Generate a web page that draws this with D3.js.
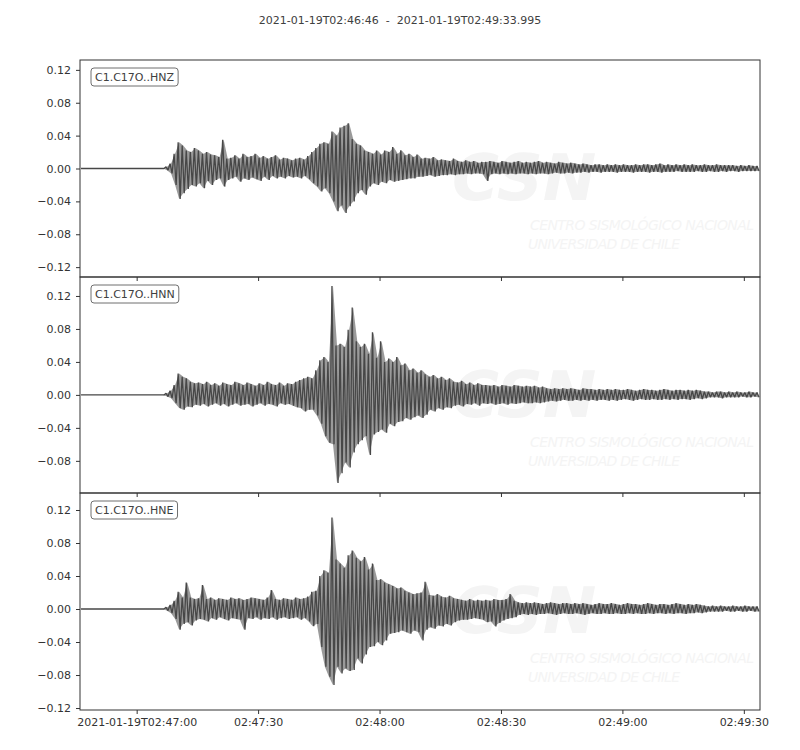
<!DOCTYPE html>
<html>
<head>
<meta charset="utf-8">
<script src="https://cdn.jsdelivr.net/npm/d3@7"></script>
<style>
  body { margin: 0; background: #fff; }
  text { font-family: "DejaVu Sans", sans-serif; }
</style>
</head>
<body>
<div id="chart"></div>
<script>
// three components of station C1.C17O, 1-second min/max envelope (units of 1e-3)
const channels = ['C1.C17O..HNZ', 'C1.C17O..HNN', 'C1.C17O..HNE'];
const startTime = '2021-01-19T02:46:46Z';
const endTime = '2021-01-19T02:49:33.995Z';
const title = '2021-01-19T02:46:46  -  2021-01-19T02:49:33.995';

const hnzMax = [0,0,0,0,0,0,0,0,0,0,0,0,0,0,0,0,0,0,0,0,0,
  2,6,18,32,28,22,20,25,22,18, 20,17,16,14,35,12,13,16,12,18,
  14,15,18,13,15,12,14,16,11,13, 12,10,12,13,11,15,20,25,30,32,
  30,45,40,50,52,55,36,30,28,22, 20,18,22,17,22,20,26,18,22,16,
  18,14,17,12,13,12,14,10,11,10, 9,12,9,8,10,8,9,7,8,8,
  9,8,7,9,8,7,8,9,7,8, 7,8,9,7,8,7,6,8,7,6,
  7,6,5,6,5,4,5,5,4,5, 4,5,4,5,4,4,5,4,5,5,
  4,5,6,4,5,4,5,4,5,4, 5,4,4,5,4,4,5,4,4,4,
  4,3,4,3,4,3,3];
const hnzMin = [0,0,0,0,0,0,0,0,0,0,0,0,0,0,0,0,0,0,0,0,0,
  -2,-6,-20,-37,-30,-25,-20,-22,-18,-24, -15,-20,-14,-12,-22,-14,-12,-10,-16,-12,
  -14,-11,-13,-15,-10,-14,-9,-12,-10,-12, -9,-11,-10,-12,-9,-13,-18,-22,-28,-24,
  -30,-40,-52,-45,-54,-46,-40,-30,-26,-32, -22,-18,-20,-16,-18,-14,-16,-15,-14,-13,
  -12,-12,-10,-10,-9,-8,-10,-9,-8,-8, -7,-8,-7,-7,-6,-7,-6,-6,-7,-15,
  -7,-6,-7,-6,-7,-6,-7,-6,-6,-7, -6,-7,-6,-6,-7,-6,-5,-6,-6,-5,
  -6,-5,-5,-4,-5,-4,-4,-5,-4,-4, -4,-5,-4,-4,-4,-5,-4,-4,-4,-5,
  -4,-4,-5,-4,-4,-4,-3,-4,-4,-4, -4,-3,-4,-4,-3,-4,-4,-3,-4,-3,
  -3,-4,-3,-3,-3,-3,-3];

const hnnMax = [0,0,0,0,0,0,0,0,0,0,0,0,0,0,0,0,0,0,0,0,0,
  2,5,12,26,22,20,16,14,15,13, 16,12,14,11,15,13,12,16,14,12,
  15,13,11,14,12,16,13,12,15,11, 14,13,16,18,20,22,20,30,42,46,
  40,132,60,62,58,79,106,65,58,62, 50,76,45,65,40,44,40,46,36,38,
  30,32,27,30,25,22,24,20,22,18, 20,16,15,17,13,15,12,14,12,12,
  11,12,10,12,11,10,12,11,10,11, 10,11,9,10,8,7,8,7,8,7,
  8,7,6,8,7,7,6,7,6,7, 6,7,6,6,7,6,5,6,7,6,
  6,5,6,7,6,5,6,6,5,6, 5,6,5,4,4,3,4,4,3,4,
  3,4,3,3,4,3,3];
const hnnMin = [0,0,0,0,0,0,0,0,0,0,0,0,0,0,0,0,0,0,0,0,0,
  -2,-4,-10,-16,-18,-14,-15,-12,-13,-11, -14,-12,-10,-13,-11,-14,-12,-10,-13,-12,
  -11,-14,-12,-10,-13,-11,-12,-14,-10,-12, -11,-13,-15,-16,-20,-18,-18,-25,-35,-50,
  -58,-60,-107,-95,-82,-88,-70,-60,-55,-50, -73,-48,-45,-42,-46,-35,-38,-33,-32,-28,
  -30,-27,-25,-28,-24,-18,-20,-16,-18,-15, -16,-13,-12,-14,-11,-12,-10,-13,-10,-11,
  -10,-12,-11,-10,-12,-10,-11,-10,-9,-10, -10,-9,-10,-9,-8,-7,-8,-7,-6,-7,
  -7,-6,-7,-6,-7,-6,-7,-6,-6,-7, -6,-7,-6,-5,-6,-7,-6,-5,-6,-6,
  -5,-6,-6,-5,-6,-5,-6,-5,-5,-6, -5,-4,-5,-4,-3,-3,-3,-4,-3,-3,
  -3,-3,-2,-3,-3,-2,-3];

const hneMax = [0,0,0,0,0,0,0,0,0,0,0,0,0,0,0,0,0,0,0,0,0,
  2,5,10,21,14,32,14,12,13,29, 12,14,11,13,12,11,14,12,13,11,
  12,14,13,12,11,14,23,12,11,13, 12,11,14,12,13,15,21,22,40,47,
  44,111,60,55,50,65,71,62,58,63, 48,55,35,36,32,30,28,25,26,22,
  20,18,19,20,33,17,16,18,15,14, 16,13,12,11,10,12,10,11,10,11,
  10,12,11,11,12,18,10,8,7,8, 7,8,7,6,7,8,7,6,7,7,
  6,7,6,7,6,5,6,7,6,6, 7,6,5,6,7,6,6,5,6,7,
  6,5,6,6,5,6,7,6,5,6, 5,6,5,4,3,4,3,4,3,3,
  4,3,3,4,3,3,3];
const hneMin = [0,0,0,0,0,0,0,0,0,0,0,0,0,0,0,0,0,0,0,0,0,
  -2,-5,-12,-25,-18,-16,-20,-14,-12,-13, -15,-11,-13,-10,-12,-14,-11,-12,-13,-25,
  -11,-12,-10,-13,-11,-12,-10,-13,-11,-10, -12,-11,-10,-13,-11,-15,-21,-18,-46,-70,
  -82,-92,-70,-78,-72,-75,-74,-60,-66,-55, -46,-45,-40,-44,-38,-30,-29,-28,-26,-28,
  -30,-26,-28,-38,-25,-22,-24,-20,-21,-18, -20,-16,-14,-13,-13,-12,-11,-12,-13,-16,
  -15,-21,-17,-14,-12,-11,-10,-7,-6,-7, -6,-7,-6,-6,-5,-6,-7,-6,-5,-6,
  -6,-5,-6,-7,-6,-5,-6,-6,-5,-6, -6,-5,-6,-6,-5,-6,-5,-6,-6,-5,
  -6,-5,-5,-6,-5,-6,-5,-5,-6,-5, -5,-4,-5,-4,-3,-3,-3,-3,-2,-3,
  -3,-2,-3,-3,-2,-3,-3];

const yLimits = [[-0.132, 0.132], [-0.119, 0.143], [-0.1224, 0.1406]];
const yTicks = [0.12, 0.08, 0.04, 0, -0.04, -0.08, -0.12];
const timeTicks = ['2021-01-19T02:47:00Z', '2021-01-19T02:47:30Z', '2021-01-19T02:48:00Z',
  '2021-01-19T02:48:30Z', '2021-01-19T02:49:00Z', '2021-01-19T02:49:30Z'];

const envelopes = [[hnzMax, hnzMin], [hnnMax, hnnMin], [hneMax, hneMin]];

const width = 800, height = 750;
const left = 80, right = 760;
const panelEdges = [60, 277, 493, 710];
const traceColor = '#474747';

const svg = d3.select('#chart').append('svg')
  .attr('width', width).attr('height', height);
svg.append('rect').attr('width', width).attr('height', height).attr('fill', '#fff');

svg.append('text')
  .attr('x', width / 2).attr('y', 24)
  .attr('text-anchor', 'middle')
  .attr('font-size', 11)
  .attr('fill', '#404040')
  .style('white-space', 'pre')
  .text(title);

const t0 = new Date(startTime);
const xScale = d3.scaleUtc()
  .domain([t0, new Date(endTime)])
  .range([left, right]);

const fmtMinus = d => d3.format('.2f')(d).replace('-', '\u2212');

channels.forEach((name, k) => {
  const top = panelEdges[k], bottom = panelEdges[k + 1];
  const yScale = d3.scaleLinear().domain(yLimits[k]).range([bottom, top]);
  const g = svg.append('g');

  g.append('clipPath').attr('id', 'clip' + k)
    .append('rect').attr('x', left).attr('y', top)
    .attr('width', right - left).attr('height', bottom - top);

  // faint CSN watermark
  const wm = g.append('g').attr('fill', '#f4f4f4').style('font-style', 'italic');
  wm.append('text').attr('x', 452).attr('y', top + 140)
    .attr('font-size', 64).attr('font-weight', 'bold').text('CSN');
  wm.append('text').attr('x', 530).attr('y', top + 170)
    .attr('font-size', 14).attr('font-family', 'Liberation Sans Narrow, Liberation Sans, sans-serif')
    .attr('textLength', 224).text('CENTRO SISMOLÓGICO NACIONAL');
  wm.append('text').attr('x', 528).attr('y', top + 189)
    .attr('font-size', 14).attr('font-family', 'Liberation Sans Narrow, Liberation Sans, sans-serif')
    .attr('textLength', 152).text('UNIVERSIDAD DE CHILE');

  const [mx, mn] = envelopes[k];

  // envelope band (light) under the trace
  const bins = mx.map((v, i) => ({t: new Date(+t0 + (i + 0.5) * 1000), hi: v / 1000, lo: mn[i] / 1000}));
  const band = d3.area()
    .x(d => xScale(d.t))
    .y0(d => yScale(d.lo))
    .y1(d => yScale(d.hi));
  g.append('path')
    .datum(bins)
    .attr('clip-path', `url(#clip${k})`)
    .attr('fill', traceColor)
    .attr('fill-opacity', 0.55)
    .attr('d', band);

  // trace: per-second max then min
  const pts = [];
  mx.forEach((v, i) => {
    pts.push([new Date(+t0 + (i + 0.25) * 1000), v / 1000]);
    pts.push([new Date(+t0 + (i + 0.75) * 1000), mn[i] / 1000]);
  });
  const line = d3.line().x(d => xScale(d[0])).y(d => yScale(d[1]));
  g.append('path')
    .datum(pts)
    .attr('clip-path', `url(#clip${k})`)
    .attr('fill', 'none')
    .attr('stroke', traceColor)
    .attr('stroke-width', 1.3)
    .attr('stroke-linejoin', 'bevel')
    .attr('d', line);

  // y axis
  const ticks = yTicks.filter(v => v >= yLimits[k][0] && v <= yLimits[k][1]);
  const yAxis = g.append('g')
    .attr('transform', `translate(${left},0)`)
    .call(d3.axisLeft(yScale).tickValues(ticks).tickFormat(fmtMinus).tickSizeInner(4).tickSizeOuter(0).tickPadding(5));
  yAxis.select('.domain').remove();
  yAxis.selectAll('line').attr('stroke', '#333');
  yAxis.selectAll('text').attr('font-size', 11).attr('fill', '#333')
    .attr('font-family', 'DejaVu Sans, sans-serif');

  // x ticks (labels on bottom panel only)
  const xAxis = g.append('g')
    .attr('transform', `translate(0,${bottom})`)
    .call(d3.axisBottom(xScale)
      .tickValues(timeTicks.map(d => new Date(d)))
      .tickFormat((d, i) => k === 2 ? (i === 0 ? d3.utcFormat('%Y-%m-%dT%H:%M:%S')(d) : d3.utcFormat('%H:%M:%S')(d)) : '')
      .tickSizeInner(4).tickSizeOuter(0).tickPadding(4));
  xAxis.select('.domain').remove();
  xAxis.selectAll('line').attr('stroke', '#333');
  xAxis.selectAll('text').attr('font-size', 11).attr('fill', '#333')
    .attr('font-family', 'DejaVu Sans, sans-serif');

  // frame
  g.append('rect')
    .attr('x', left).attr('y', top)
    .attr('width', right - left).attr('height', bottom - top)
    .attr('fill', 'none').attr('stroke', '#333').attr('stroke-width', 1);

  // channel label box
  const lab = g.append('g').attr('transform', `translate(91,${top + 8})`);
  const txt = lab.append('text').attr('x', 4).attr('y', 13)
    .attr('font-size', 11).attr('fill', '#404040').text(name);
  const w = txt.node().getComputedTextLength();
  lab.insert('rect', 'text')
    .attr('width', w + 8).attr('height', 18).attr('rx', 3)
    .attr('fill', '#fff').attr('stroke', '#6f6f6f').attr('stroke-width', 1);
});
</script>
</body>
</html>
